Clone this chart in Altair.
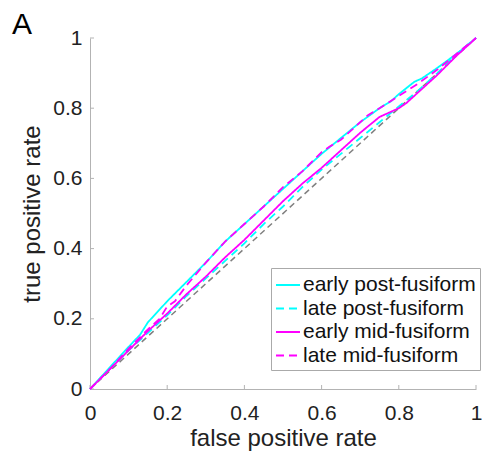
import altair as alt
import pandas as pd

series_names = ["early post-fusiform", "late post-fusiform", "early mid-fusiform", "late mid-fusiform"]
series_colors = ["#00FFFF", "#00FFFF", "#FF00FF", "#FF00FF"]
series_dash = [[1, 0], [8, 5], [1, 0], [8, 5]]

early_post_x = [0, 0.05, 0.10, 0.13, 0.15, 0.20, 0.25, 0.30, 0.35, 0.40, 0.45, 0.50, 0.55, 0.60, 0.65, 0.70, 0.75, 0.78, 0.80, 0.84, 0.86, 0.90, 0.95, 1.0]
early_post_y = [0, 0.06, 0.12, 0.155, 0.19, 0.25, 0.305, 0.36, 0.42, 0.47, 0.52, 0.57, 0.62, 0.67, 0.715, 0.76, 0.80, 0.82, 0.84, 0.875, 0.885, 0.915, 0.955, 1.0]

late_post_x = [0, 0.05, 0.10, 0.15, 0.20, 0.25, 0.30, 0.35, 0.40, 0.45, 0.50, 0.55, 0.60, 0.65, 0.70, 0.75, 0.80, 0.85, 0.90, 0.95, 1.0]
late_post_y = [0, 0.055, 0.11, 0.16, 0.21, 0.265, 0.315, 0.365, 0.415, 0.47, 0.52, 0.575, 0.625, 0.67, 0.715, 0.76, 0.805, 0.85, 0.90, 0.955, 1.0]

early_mid_x = [0, 0.05, 0.10, 0.15, 0.20, 0.25, 0.30, 0.35, 0.40, 0.45, 0.50, 0.55, 0.60, 0.65, 0.70, 0.75, 0.80, 0.82, 0.85, 0.90, 0.95, 1.0]
early_mid_y = [0, 0.055, 0.11, 0.165, 0.215, 0.27, 0.32, 0.375, 0.425, 0.48, 0.535, 0.585, 0.63, 0.68, 0.73, 0.775, 0.80, 0.815, 0.845, 0.895, 0.95, 1.0]

late_mid_x = [0, 0.05, 0.10, 0.15, 0.18, 0.20, 0.22, 0.25, 0.30, 0.35, 0.40, 0.45, 0.50, 0.55, 0.60, 0.62, 0.65, 0.70, 0.72, 0.75, 0.80, 0.85, 0.90, 0.95, 1.0]
late_mid_y = [0, 0.055, 0.115, 0.17, 0.20, 0.235, 0.25, 0.295, 0.36, 0.42, 0.47, 0.52, 0.575, 0.62, 0.675, 0.69, 0.71, 0.76, 0.78, 0.80, 0.835, 0.87, 0.91, 0.955, 1.0]

diag_x = [0, 1]
diag_y = [0, 1]

tick_values = [0, 0.2, 0.4, 0.6, 0.8, 1.0]

FONT = "Liberation Sans"
W, H = 386, 351

rows = []
for name, xs, ys in zip(series_names,
                        [early_post_x, late_post_x, early_mid_x, late_mid_x],
                        [early_post_y, late_post_y, early_mid_y, late_mid_y]):
    for i, (a, b) in enumerate(zip(xs, ys)):
        rows.append({"series": name, "fpr": a, "tpr": b, "i": i})
df = pd.DataFrame(rows)
diag_df = pd.DataFrame({"fpr": diag_x, "tpr": diag_y})
ticks_df = pd.DataFrame({"fpr": tick_values, "tpr": tick_values})

xscale = alt.Scale(domain=[0, 1], nice=False, zero=False)
yscale = alt.Scale(domain=[0, 1], nice=False, zero=False)

x_axis = alt.Axis(title="false positive rate", values=tick_values, format=".1~f",
                  ticks=False, tickSize=0, grid=False,
                  domainColor="#b3b3b3", domainWidth=1,
                  labelFont=FONT, labelFontSize=21, labelColor="#222222", labelPadding=13,
                  labelFlush=False,
                  titleFont=FONT, titleFontSize=24, titleFontWeight="normal",
                  titleColor="#222222", titlePadding=3)
y_axis = alt.Axis(title="true positive rate", values=tick_values, format=".1~f",
                  ticks=False, tickSize=0, grid=False,
                  domainColor="#b3b3b3", domainWidth=1,
                  labelFont=FONT, labelFontSize=21, labelColor="#222222", labelPadding=8,
                  labelFlush=False,
                  titleFont=FONT, titleFontSize=24, titleFontWeight="normal",
                  titleColor="#222222", titlePadding=8)

legend = alt.Legend(
    orient="none", legendX=181, legendY=230, title=None,
    strokeColor="#aaaaaa", fillColor="white", padding=4,
    labelFont=FONT, labelFontSize=21, labelColor="#111111", labelOffset=2, labelLimit=400,
    symbolType="stroke", symbolSize=576, symbolStrokeWidth=2, rowPadding=0.5,
)

X = alt.X("fpr:Q", scale=xscale, axis=x_axis)
Y = alt.Y("tpr:Q", scale=yscale, axis=y_axis)

diag = alt.Chart(diag_df).mark_line(color="#808080", strokeDash=[6, 4], strokeWidth=1.5).encode(
    x=X, y=Y,
)

lines = alt.Chart(df).mark_line(strokeWidth=1.8).encode(
    x=X, y=Y,
    color=alt.Color("series:N", scale=alt.Scale(domain=series_names, range=series_colors),
                    sort=series_names, legend=legend),
    strokeDash=alt.StrokeDash("series:N", scale=alt.Scale(domain=series_names, range=series_dash),
                              sort=series_names, legend=legend),
    order=alt.Order("i:Q"),
)

xticks = alt.Chart(ticks_df).mark_rule(color="#b3b3b3", strokeWidth=1).encode(
    x=X, y=alt.value(H), y2=alt.value(H - 4),
)
yticks = alt.Chart(ticks_df).mark_rule(color="#b3b3b3", strokeWidth=1).encode(
    y=Y, x=alt.value(0), x2=alt.value(4),
)

panel_label = alt.Chart(pd.DataFrame({"t": ["A"]})).mark_text(
    font=FONT, fontSize=30, color="#000000", align="left", baseline="alphabetic"
).encode(text="t:N", x=alt.value(-78), y=alt.value(-4))

chart = alt.layer(diag, xticks, yticks, lines, panel_label).properties(
    width=W, height=H,
    autosize=alt.AutoSizeParams(type="none"),
    padding={"left": 82, "top": 30, "right": 6, "bottom": 62},
).configure_view(stroke=None)

chart.save("out.html", embed_options={"renderer": "svg", "actions": False})
